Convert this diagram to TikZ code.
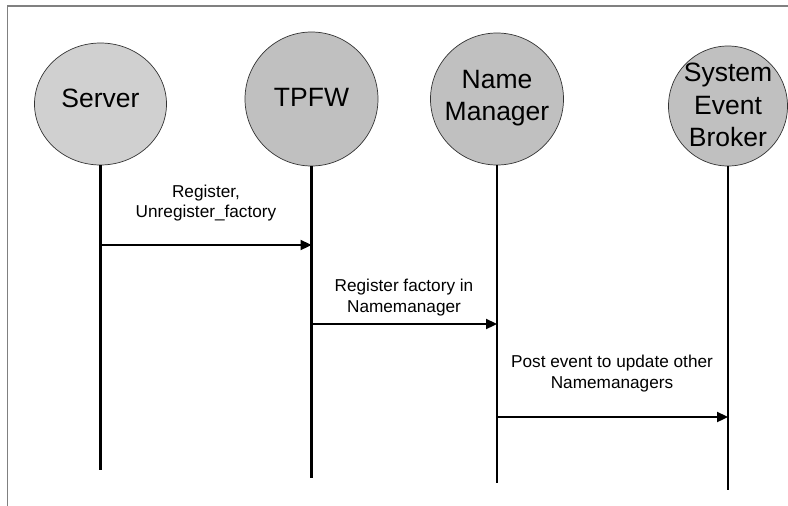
\documentclass[tikz,border=0pt]{standalone}
\usepackage{fontspec}
\setmainfont{Liberation Sans}
\usetikzlibrary{shapes.geometric,arrows.meta}
\definecolor{frame}{HTML}{808080}
\definecolor{lightfill}{HTML}{D0D0D0}
\definecolor{darkfill}{HTML}{C0C0C0}
\tikzset{
  x=1pt,y=-1pt,
  actor/.style={ellipse,draw=black!80,line width=0.7pt,inner sep=0pt},
  bigtext/.style={align=center,inner sep=0pt,font=\fontsize{26.5}{32.5}\selectfont},
  msgtext/.style={align=center,inner sep=0pt,font=\fontsize{17.2}{20.5}\selectfont},
  lifeline/.style={line width=2.7pt},
  msg/.style={line width=2.3pt,-{Triangle[length=11pt,width=10pt]}},
  framebar/.style={draw=frame,line width=1.6pt}
}
\begin{document}
\begin{tikzpicture}
\useasboundingbox (0,0) rectangle (788,506);
% frame
\coordinate (fA) at (7.5,506);
\coordinate (fB) at (7.5,6);
\coordinate (fC) at (788,6);
\draw[framebar] (fA) -- (fB) -- (fC);
% actors
\node[actor,fill=lightfill,minimum width=132pt,minimum height=122pt] (server) at (100.5,104) {};
\node[actor,fill=darkfill,minimum width=133pt,minimum height=134pt] (tpfw) at (311.5,99) {};
\node[actor,fill=darkfill,minimum width=133pt,minimum height=132pt] (nm) at (497,99) {};
\node[actor,fill=darkfill,minimum width=119pt,minimum height=120pt] (seb) at (728,106) {};
\node[bigtext] (serverT) at (100.5,98) {Server};
\node[bigtext] (tpfwT) at (311.5,97) {TPFW};
\node[bigtext] (nmT) at (497,98) {Name\\Manager};
\node[bigtext] (sebT) at (728,105) {System\\Event\\Broker};
% lifeline ends
\coordinate (serverE) at (100.5,470);
\coordinate (tpfwE) at (311.5,478);
\coordinate (nmE) at (497,483);
\coordinate (sebE) at (728,490);
\draw[lifeline] (server.south) -- (serverE);
\draw[lifeline] (tpfw.south) -- (tpfwE);
\draw[lifeline] (nm.south) -- (nmE);
\draw[lifeline] (seb.south) -- (sebE);
% message points
\coordinate (m1s) at (100.5,245);
\coordinate (m1e) at (311.5,245);
\coordinate (m2s) at (311.5,324);
\coordinate (m2e) at (497,324);
\coordinate (m3s) at (497,417);
\coordinate (m3e) at (728,417);
\draw[msg] (m1s) -- (m1e);
\draw[msg] (m2s) -- (m2e);
\draw[msg] (m3s) -- (m3e);
\node[msgtext] (l1) at (206,203) {Register,\\Unregister\_factory};
\node[msgtext] (l2) at (404,297.5) {Register factory in\\Namemanager};
\node[msgtext] (l3) at (612,373.5) {Post event to update other\\Namemanagers};
\end{tikzpicture}
\end{document}
